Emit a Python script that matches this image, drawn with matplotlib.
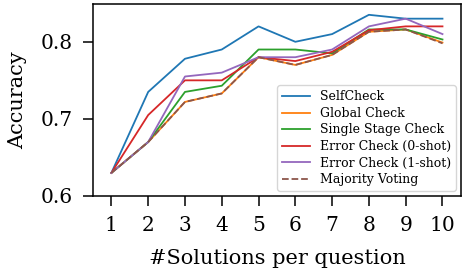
import matplotlib
matplotlib.use("Agg")
import matplotlib.pyplot as plt

plt.rcParams['font.family'] = ['DejaVu Serif']

x = [1, 2, 3, 4, 5, 6, 7, 8, 9, 10]
selfcheck = [0.630, 0.735, 0.778, 0.790, 0.820, 0.800, 0.810, 0.835, 0.830, 0.830]
global_check = [0.630, 0.670, 0.722, 0.733, 0.780, 0.770, 0.783, 0.813, 0.816, 0.799]
single_stage = [0.630, 0.670, 0.735, 0.743, 0.790, 0.790, 0.785, 0.816, 0.816, 0.803]
error_0shot = [0.630, 0.705, 0.750, 0.750, 0.780, 0.775, 0.787, 0.815, 0.820, 0.820]
error_1shot = [0.630, 0.670, 0.755, 0.760, 0.780, 0.780, 0.790, 0.820, 0.830, 0.810]
majority = [0.630, 0.670, 0.722, 0.733, 0.780, 0.770, 0.783, 0.813, 0.816, 0.798]

fig = plt.figure(figsize=(4.66, 2.68), dpi=100)
ax = fig.add_axes([0.1996, 0.2687, 0.7894, 0.7163])
lw = 1.3
ax.plot(x, selfcheck, color='#1f77b4', label='SelfCheck', lw=lw)
ax.plot(x, global_check, color='#ff7f0e', label='Global Check', lw=lw)
ax.plot(x, single_stage, color='#2ca02c', label='Single Stage Check', lw=lw)
ax.plot(x, error_0shot, color='#d62728', label='Error Check (0-shot)', lw=lw)
ax.plot(x, error_1shot, color='#9467bd', label='Error Check (1-shot)', lw=lw)
ax.plot(x, majority, color='#8c564b', ls='--', label='Majority Voting', lw=lw)

ax.set_xlim(0.5, 10.5)
ax.set_ylim(0.6, 0.849)
ax.set_xticks(x)
ax.set_yticks([0.6, 0.7, 0.8])
ax.tick_params(labelsize=14.5, length=7.2, width=1.1, pad=7.3)
for s in ax.spines.values():
    s.set_linewidth(1.1)
ax.set_xlabel('#Solutions per question', fontsize=15, labelpad=10)
ax.set_ylabel('Accuracy', fontsize=15, labelpad=10)
ax.legend(loc='lower right', fontsize=9, handlelength=2.2, labelspacing=0.28,
          borderpad=0.4, borderaxespad=0.4)
fig.savefig('out.png', dpi=100)
